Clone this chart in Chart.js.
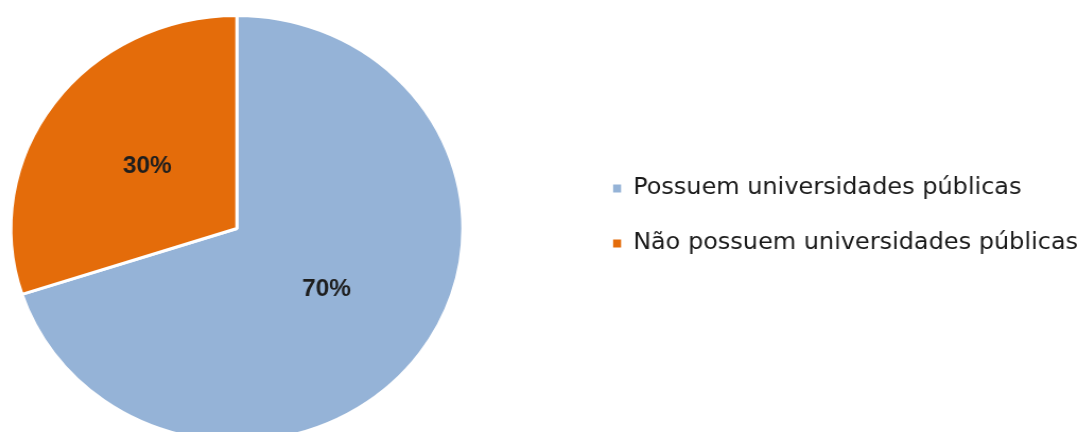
<!DOCTYPE html>
<html lang="pt">
<head>
<meta charset="UTF-8">
<title>Universidades públicas</title>
<script src="https://cdn.jsdelivr.net/npm/chart.js"></script>
<style>
  html, body { margin: 0; padding: 0; background: #fff; width: 1078px; height: 432px; overflow: hidden; }
  /* o original está esticado na horizontal, daí o scaleX */
  #wrap { position: absolute; left: -105px; top: -14px; height: 460px; transform: scaleX(1.061); transform-origin: 0 0; }
</style>
</head>
<body>
<div id="wrap"><canvas id="pie"></canvas></div>

<script>
const categories = ['Possuem universidades públicas', 'Não possuem universidades públicas'];
const shares = [70, 30];

const sliceColors = ['#95B3D7', '#E46C0A'];
const legendFont = { family: '"DejaVu Sans", sans-serif', size: 22.6 };
const legendPad = 32.4;
const boxW = 7.5;
const pieAreaW = 644.6; // largura da área da pizza, antes do scaleX

// largura do canvas = área da pizza + largura natural da legenda
const m = document.createElement('canvas').getContext('2d');
m.font = legendFont.size + 'px ' + legendFont.family;
const textW = Math.max(...categories.map(t => m.measureText(t).width));
const legendW = legendPad + boxW + legendFont.size / 2 + textW + 10;
document.getElementById('wrap').style.width = Math.round(pieAreaW + legendW) + 'px';

// rótulos de porcentagem dentro das fatias
const sliceLabels = {
  id: 'sliceLabels',
  afterDatasetsDraw(chart) {
    const ctx = chart.ctx;
    const meta = chart.getDatasetMeta(0);
    ctx.save();
    ctx.font = 'bold 23px "Liberation Sans", Arial, sans-serif';
    ctx.fillStyle = '#1e1e1e';
    ctx.textAlign = 'center';
    ctx.textBaseline = 'middle';
    meta.data.forEach((arc, i) => {
      const p = arc.getProps(['x', 'y', 'startAngle', 'endAngle', 'outerRadius'], true);
      const mid = (p.startAngle + p.endAngle) / 2;
      const r = p.outerRadius * 0.49;
      ctx.fillText(shares[i] + '%', p.x + Math.cos(mid) * r, p.y + Math.sin(mid) * r);
    });
    ctx.restore();
  }
};

const baseLabels = Chart.overrides.pie.plugins.legend.labels.generateLabels;

new Chart(document.getElementById('pie'), {
  type: 'pie',
  data: {
    labels: categories,
    datasets: [{
      data: shares,
      backgroundColor: sliceColors,
      borderColor: '#ffffff',
      borderWidth: 3,
      radius: 213
    }]
  },
  options: {
    responsive: true,
    maintainAspectRatio: false,
    animation: false,
    layout: { padding: 0 },
    plugins: {
      legend: {
        position: 'right',
        labels: {
          font: legendFont,
          color: '#1a1a1a',
          boxWidth: boxW,
          boxHeight: 8,
          padding: legendPad,
          generateLabels: chart => baseLabels(chart).map(l => ({ ...l, lineWidth: 0 }))
        }
      },
      // título vazio só para descer a pizza em relação à legenda
      title: { display: true, text: '', fullSize: false, padding: { top: 13, bottom: 0 }, font: { size: 10 } },
      tooltip: { enabled: false }
    }
  },
  plugins: [sliceLabels]
});
</script>
</body>
</html>
